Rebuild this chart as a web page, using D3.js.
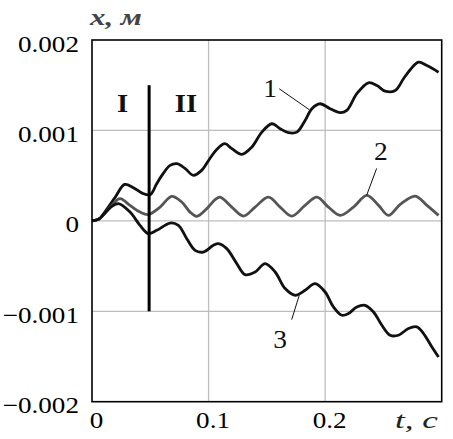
<!DOCTYPE html>
<html>
<head>
<meta charset="utf-8">
<script src="https://cdn.jsdelivr.net/npm/d3@7"></script>
<style>
  html, body { margin: 0; padding: 0; background: #fff; }
  svg { display: block; }
  text { font-family: "Liberation Serif", "Times New Roman", serif; }
</style>
</head>
<body>
<svg id="chart" width="453" height="439"></svg>
<script>
// ---- data (t in s, x in m) ----
const tTicks = [0, 0.1, 0.2];
const xTicks = [0.002, 0.001, 0, -0.001, -0.002];

const t1 = [0, .006, .010, .020, .028, .0355, .043, .050, .0555, .061, .067, .073, .080, .087, .094, .101, .107, .114, .120, .1285, .137, .1457, .1543, .1614, .1685, .1757, .1828, .1886, .1957, .2043, .2129, .2186, .2272, .2372, .2444, .2515, .2601, .2672, .273, .2801, .2873, .2973];
const x1 = [0, .00002, .00008, .000263, .000403, .000367, .000307, .00029, .000411, .000522, .000613, .000632, .000577, .000503, .000558, .000687, .00079, .000853, .000798, .000735, .000815, .000981, .001074, .001019, .000975, .000981, .00111, .00124, .001295, .00124, .001196, .001221, .001406, .001527, .001497, .001434, .001442, .001571, .001671, .001755, .001718, .001644];

const t2 = [0, .006, .010, .017, .024, .0326, .0412, .0483, .0584, .0684, .077, .0841, .0899, .0985, .1056, .1099, .1199, .1299, .1399, .1513, .1614, .1714, .1828, .1929, .2028, .2129, .2243, .2358, .2458, .2543, .2644, .2773, .2873, .2973];
const x2 = [0, .00002, .00007, .00017, .000245, .000171, .000097, .000069, .000152, .000271, .000208, .000097, .00005, .000135, .000234, .000263, .000152, .000053, .000152, .000263, .000152, .000053, .000171, .000263, .000152, .000061, .000152, .000282, .000171, .000061, .000182, .000274, .000171, .000061];

const t3 = [0, .006, .010, .016, .0226, .0326, .0412, .0483, .0555, .067, .0741, .0813, .0884, .0955, .1041, .1084, .1156, .1242, .1313, .1399, .1485, .1571, .1657, .1742, .1828, .1914, .2, .2071, .2143, .22, .2272, .2343, .2415, .2487, .2558, .2629, .2715, .2787, .2844, .2916, .2973];
const x3 = [0, .00002, .00007, .00015, .00019, .000097, -.00005, -.000141, -.000105, -.000024, -.00005, -.000197, -.000326, -.000345, -.000271, -.000252, -.000307, -.000473, -.000594, -.000566, -.000473, -.000566, -.000749, -.000823, -.000768, -.000694, -.000787, -.000952, -.001044, -.001025, -.000952, -.000934, -.001008, -.001155, -.001265, -.001265, -.001191, -.001173, -.001246, -.001394, -.001505];

const curveNames = ["1", "2", "3"];
const zoneNames = ["I", "II"];
const zoneBoundary = 0.049;
const boundaryRange = [0.0015, -0.001];

// ---- layout ----
const svg = d3.select("#chart");
const margin = { left: 92, top: 40 };
const W = 349.7, H = 361.7;
const SX = 1.18;

const x = d3.scaleLinear().domain([0, 0.3]).range([0, W]);
const y = d3.scaleLinear().domain([-0.002, 0.002]).range([H, 0]);

const g = svg.append("g").attr("transform", `translate(${margin.left},${margin.top})`);

// grid
g.selectAll("line.vgrid").data(tTicks.filter(d => d > 0)).join("line")
  .attr("x1", d => x(d)).attr("x2", d => x(d)).attr("y1", 0).attr("y2", H)
  .attr("stroke", "#bdbdbd").attr("stroke-width", 1.3);
g.selectAll("line.hgrid").data(xTicks.filter(d => Math.abs(d) < 0.0019)).join("line")
  .attr("x1", 0).attr("x2", W).attr("y1", d => y(d)).attr("y2", d => y(d))
  .attr("stroke", "#bdbdbd").attr("stroke-width", 1.3);

// axes (labels only)
const fmt = d => d === 0 ? "0" : (d < 0 ? "\u2212" : "") + Math.abs(d).toFixed(3);
const yAxis = g.append("g").call(d3.axisLeft(y).tickValues(xTicks).tickSize(0).tickFormat(fmt));
yAxis.select(".domain").remove();
yAxis.selectAll("text")
  .attr("font-family", "Liberation Serif").attr("font-size", 23).attr("fill", "#000")
  .attr("text-anchor", "end").attr("x", -13 / SX).attr("dy", 0).attr("y", 11)
  .attr("transform", `scale(${SX},1)`);

const xAxis = g.append("g").attr("transform", `translate(0,${H})`)
  .call(d3.axisBottom(x).tickValues(tTicks).tickSize(0).tickFormat(d => d === 0 ? "0" : String(d)));
xAxis.select(".domain").remove();
xAxis.selectAll("text")
  .attr("font-family", "Liberation Serif").attr("font-size", 23).attr("fill", "#000")
  .attr("text-anchor", "middle").attr("x", 4 / SX).attr("dy", 0).attr("y", 26.5)
  .attr("transform", `scale(${SX},1)`);

// axis titles
svg.append("text").attr("x", 90).attr("y", 25)
  .attr("font-size", 24).attr("font-style", "italic").attr("font-weight", "bold").attr("fill", "#444")
  .attr("textLength", 52).attr("lengthAdjust", "spacingAndGlyphs")
  .text("x, м");
svg.append("text").attr("x", 395).attr("y", 428)
  .attr("font-size", 24).attr("font-style", "italic").attr("fill", "#222")
  .attr("textLength", 43).attr("lengthAdjust", "spacingAndGlyphs")
  .text("t, c");

// curves
const line = d3.line().x(d => x(d[0])).y(d => y(d[1])).curve(d3.curveCatmullRom.alpha(0.5));
const series = [
  { pts: d3.zip(t1, x1), color: "#111" },
  { pts: d3.zip(t2, x2), color: "#555" },
  { pts: d3.zip(t3, x3), color: "#111" }
];
g.selectAll("path.curve").data(series).join("path")
  .attr("d", d => line(d.pts)).attr("fill", "none")
  .attr("stroke", d => d.color).attr("stroke-width", 2.8).attr("stroke-linejoin", "round");

// zone boundary
g.append("line")
  .attr("x1", x(zoneBoundary)).attr("x2", x(zoneBoundary))
  .attr("y1", y(boundaryRange[0])).attr("y2", y(boundaryRange[1]))
  .attr("stroke", "#000").attr("stroke-width", 3);

// zone labels
const zonePos = [[0.0262, 0.0012], [0.0806, 0.0012]];
zoneNames.forEach((n, i) => {
  g.append("text").attr("transform", `translate(${x(zonePos[i][0])},${y(zonePos[i][1])}) scale(1.1,1)`)
    .attr("text-anchor", "middle").attr("font-size", 26).attr("font-weight", "bold").attr("fill", "#111").text(n);
});

// curve labels with leaders
const labelPos = [[0.1527, 0.001365], [0.2479, 0.000668], [0.1613, -0.001409]];
const leaders = [
  [[0.1606, 0.001461], [0.1864, 0.001229]],
  [[0.2442, 0.00058], [0.2356, 0.000282]],
  [[0.1713, -0.001092], [0.1778, -0.000823]]
];
curveNames.forEach((n, i) => {
  g.append("line")
    .attr("x1", x(leaders[i][0][0])).attr("y1", y(leaders[i][0][1]))
    .attr("x2", x(leaders[i][1][0])).attr("y2", y(leaders[i][1][1]))
    .attr("stroke", "#111").attr("stroke-width", 1);
  g.append("text").attr("transform", `translate(${x(labelPos[i][0])},${y(labelPos[i][1])}) scale(1.1,1)`)
    .attr("text-anchor", "middle").attr("font-size", 25).attr("fill", "#111").text(n);
});

// frame
g.append("rect").attr("x", 0).attr("y", 0).attr("width", W).attr("height", H)
  .attr("fill", "none").attr("stroke", "#000").attr("stroke-width", 1.6);
</script>
</body>
</html>
